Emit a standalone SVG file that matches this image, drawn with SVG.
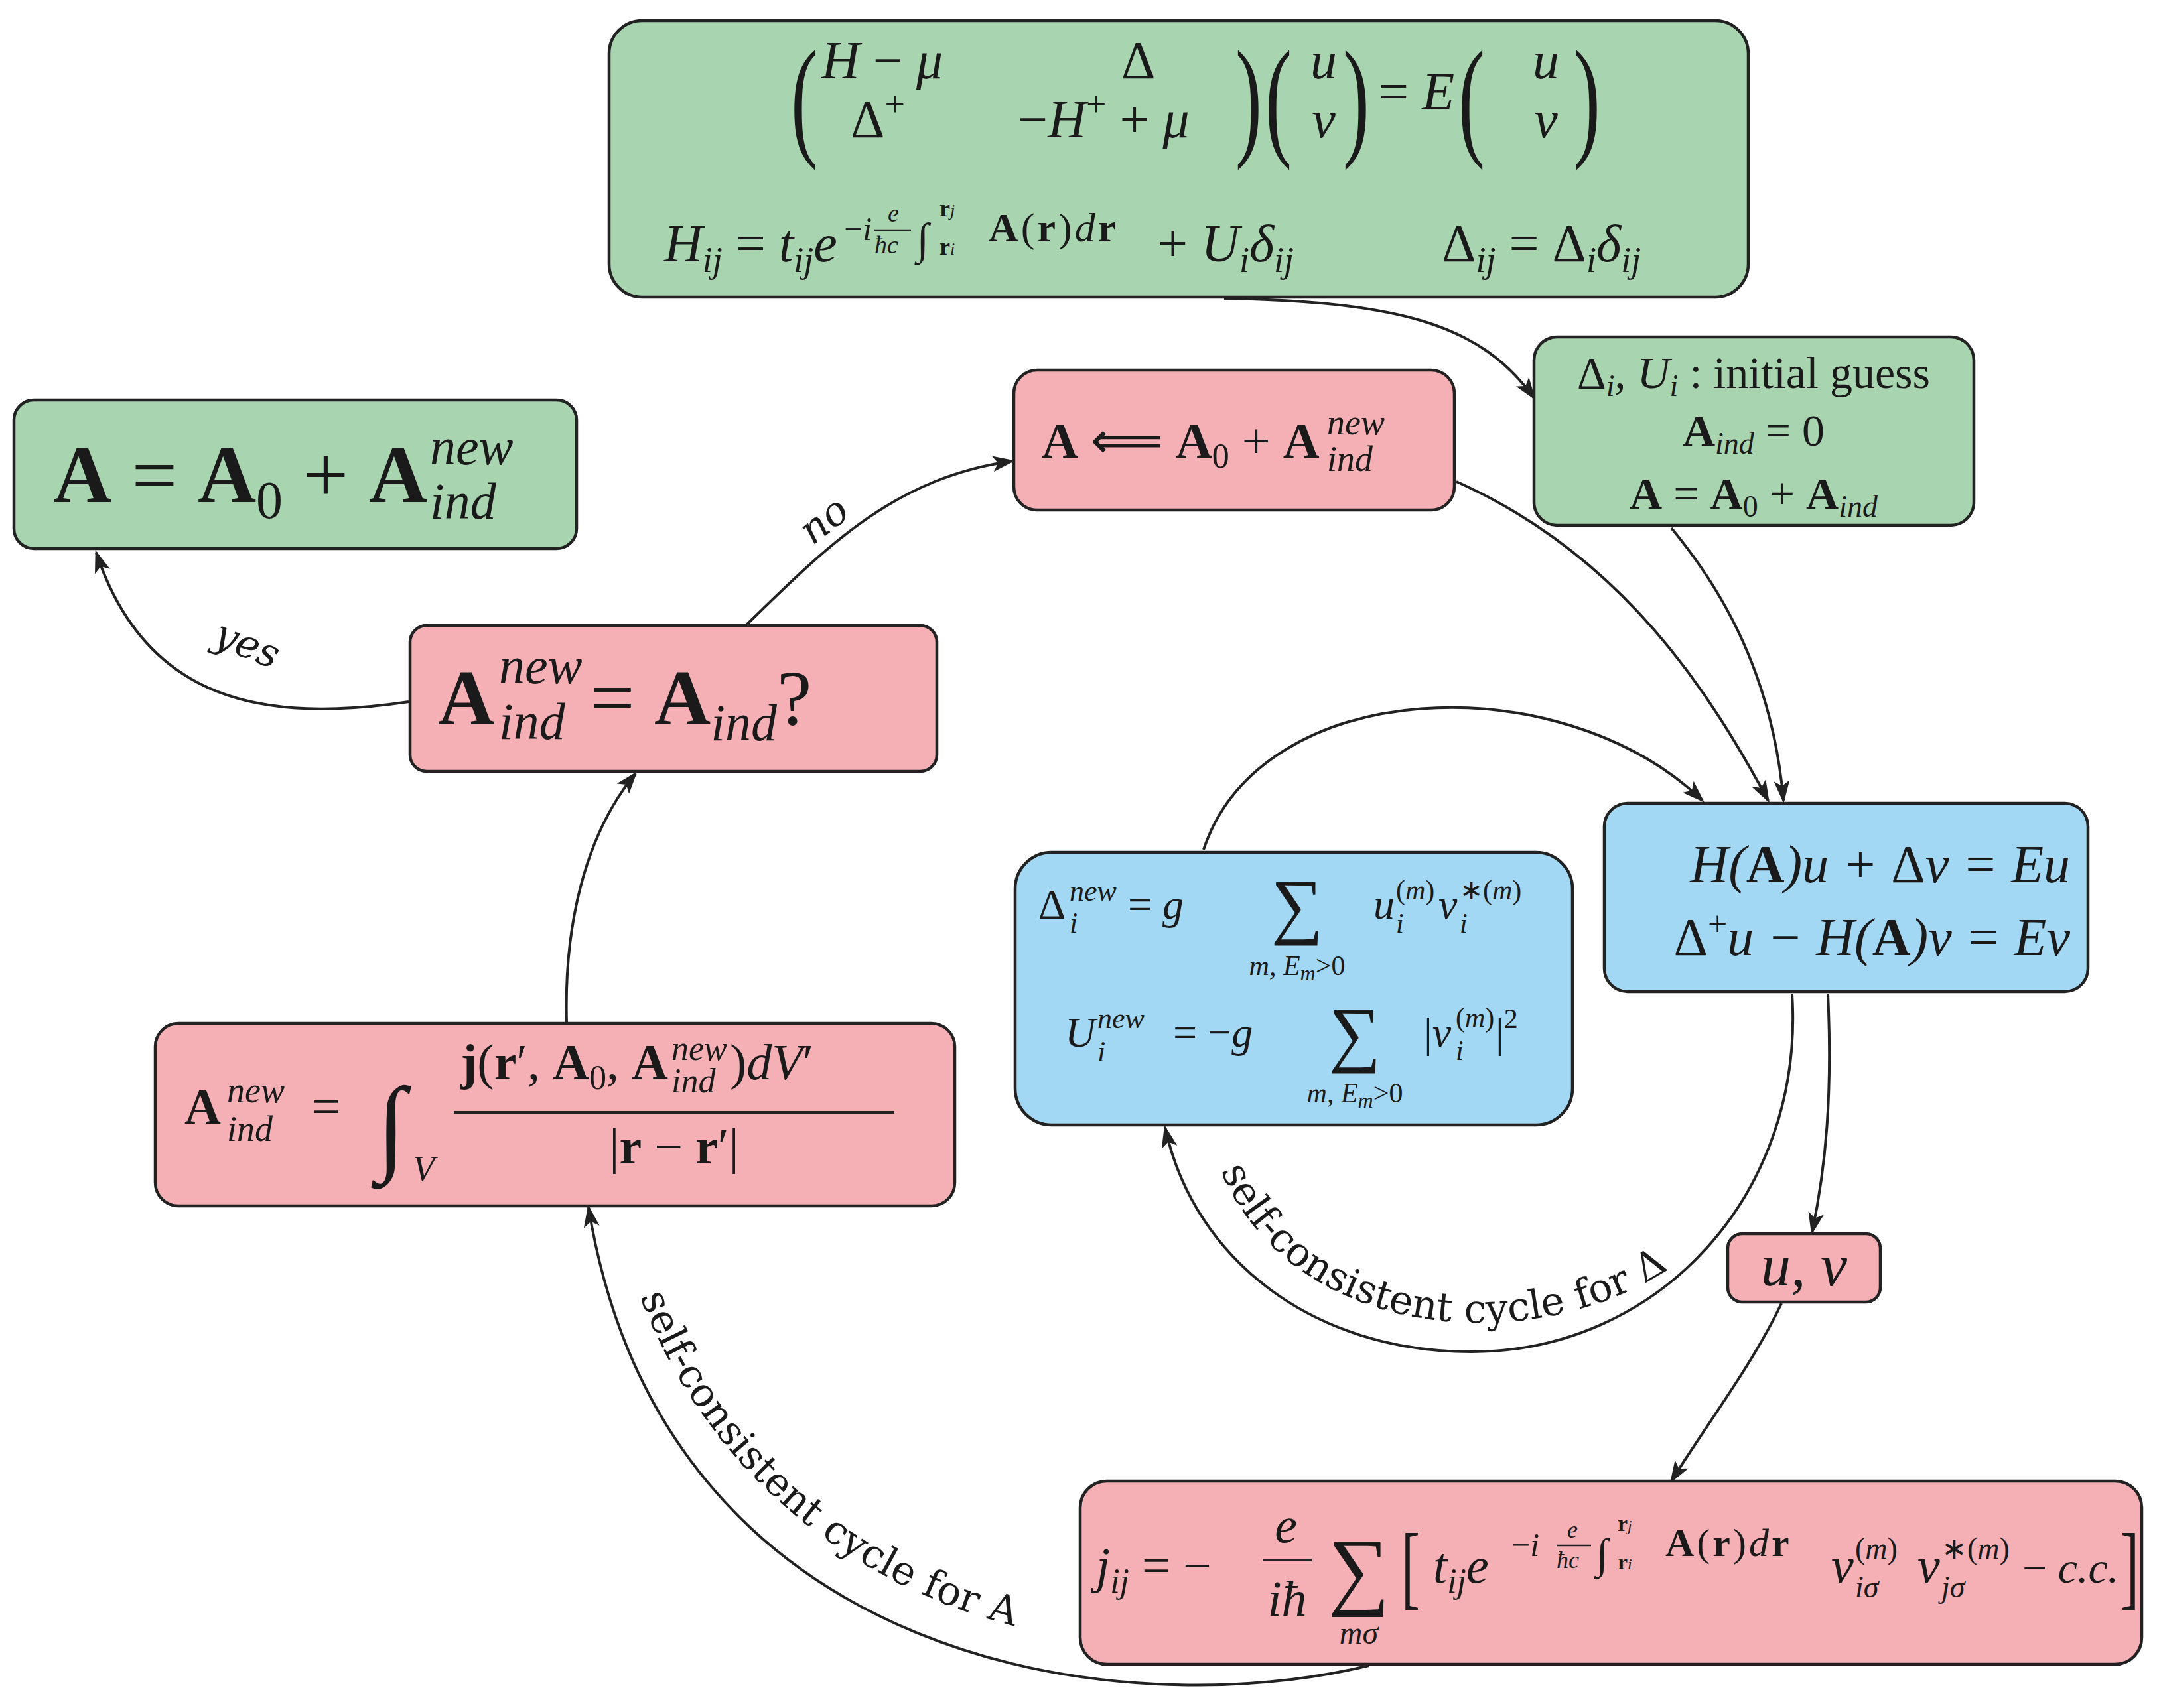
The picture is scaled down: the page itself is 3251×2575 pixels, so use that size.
<svg xmlns="http://www.w3.org/2000/svg" width="3251" height="2575" viewBox="0 0 3251 2575">
<defs>
<style>
.g{fill:#a8d5b0;stroke:#222;stroke-width:4.5}
.p{fill:#f4b0b5;stroke:#222;stroke-width:4.5}
.b{fill:#a3d8f4;stroke:#222;stroke-width:4.5}
.m{font-family:"Liberation Serif","Times New Roman",serif;fill:#1a1a1a}
.i{font-style:italic}
.bf{font-weight:bold}
.c{fill:none;stroke:#222;stroke-width:4}
.l{font-family:"DejaVu Serif","Noto Serif",serif;fill:#1a1a1a;font-size:60px}
</style>
<marker id="ah" markerWidth="34" markerHeight="24" refX="30" refY="12" orient="auto" markerUnits="userSpaceOnUse">
<path d="M0,0 L34,12 L0,24 L8,12 Z" fill="#222"/>
</marker>
</defs>
<rect width="3251" height="2575" fill="#fff"/>

<g id="connectors">
<path class="c" marker-end="url(#ah)" d="M1845,450 C2100,455 2230,485 2312,600"/>
<path class="c" marker-end="url(#ah)" d="M2195,726 C2450,840 2580,1050 2665,1207"/>
<path class="c" marker-end="url(#ah)" d="M2519,796 C2580,870 2670,1000 2688,1207"/>
<path class="c" marker-end="url(#ah)" d="M1814,1281 C1900,1020 2350,1000 2566,1207"/>
<path class="c" marker-end="url(#ah)" d="M2701,1499 C2720,1800 2500,2038 2218,2038 C1980,2038 1800,1900 1756,1700"/>
<path class="c" marker-end="url(#ah)" d="M2755,1499 C2762,1650 2752,1760 2731,1858"/>
<path class="c" marker-end="url(#ah)" d="M2685,1965 C2640,2060 2570,2150 2519,2233"/>
<path class="c" marker-end="url(#ah)" d="M2063,2511 C1700,2600 1000,2520 887,1820"/>
<path class="c" marker-end="url(#ah)" d="M854,1541 C850,1400 880,1260 958,1166"/>
<path class="c" marker-end="url(#ah)" d="M1126,941 C1250,820 1350,720 1526,695"/>
<path class="c" marker-end="url(#ah)" d="M616,1058 C400,1090 220,1060 145,833"/>
<path id="tpD" fill="none" d="M1840,1765 C1965,2065 2440,2055 2610,1825"/>
<path id="tpA" fill="none" d="M965,1955 C1060,2210 1290,2420 1620,2470"/>
<text class="l"><textPath href="#tpD">self-consistent cycle for Δ</textPath></text>
<text class="l"><textPath href="#tpA">self-consistent cycle for A</textPath></text>
<text class="l" x="1254" y="800" transform="rotate(-38 1254 800)" text-anchor="middle" style="font-style:italic">no</text>
<text class="l" x="365" y="990" transform="rotate(22 365 990)" text-anchor="middle" style="font-style:italic">yes</text>
</g>

<g id="top">
<rect class="g" x="918" y="31" width="1717" height="417" rx="50"/>
<g class="m" font-size="80">
<text x="1192" y="214" font-size="200" transform="translate(1192 0) scale(0.6 1) translate(-1192 0)">(</text>
<text x="1862" y="214" font-size="200" transform="translate(1862 0) scale(0.6 1) translate(-1862 0)">)</text>
<text x="1238" y="118"><tspan class="i">H</tspan> − <tspan class="i">μ</tspan></text>
<text x="1690" y="118">Δ</text>
<text x="1282" y="207">Δ<tspan font-size="54" dy="-32">+</tspan></text>
<text x="1534" y="207">−<tspan class="i">H</tspan><tspan font-size="54" dy="-32">+</tspan><tspan dy="32"> + </tspan><tspan class="i">μ</tspan></text>
<text x="1907" y="214" font-size="200" transform="translate(1907 0) scale(0.6 1) translate(-1907 0)">(</text>
<text x="1995" y="118" class="i" text-anchor="middle">u</text>
<text x="1995" y="207" class="i" text-anchor="middle">v</text>
<text x="2024" y="214" font-size="200" transform="translate(2024 0) scale(0.6 1) translate(-2024 0)">)</text>
<text x="2078" y="165">= <tspan class="i">E</tspan></text>
<text x="2198" y="214" font-size="200" transform="translate(2198 0) scale(0.6 1) translate(-2198 0)">(</text>
<text x="2330" y="118" class="i" text-anchor="middle">u</text>
<text x="2330" y="207" class="i" text-anchor="middle">v</text>
<text x="2372" y="214" font-size="200" transform="translate(2372 0) scale(0.6 1) translate(-2372 0)">)</text>
<text x="1001" y="394"><tspan class="i">H</tspan><tspan class="i" font-size="54" dy="16">ij</tspan><tspan dy="-16"> = </tspan><tspan class="i">t</tspan><tspan class="i" font-size="54" dy="16">ij</tspan><tspan class="i" dy="-16">e</tspan></text>
<text x="1272" y="362" font-size="50"><tspan>−</tspan><tspan class="i">i</tspan></text>
<text x="1338" y="334" font-size="38" class="i">e</text>
<line x1="1318" y1="347" x2="1373" y2="347" stroke="#222" stroke-width="2.5"/>
<text x="1318" y="382" font-size="38" class="i">ħc</text>
<text x="1382" y="382" font-size="66" class="i">∫</text>
<text x="1416" y="326" font-size="36" class="bf">r<tspan class="i" font-weight="normal" font-size="26">j</tspan></text>
<text x="1416" y="384" font-size="36" class="bf">r<tspan class="i" font-weight="normal" font-size="26">i</tspan></text>
<text x="1490" y="364" font-size="62" letter-spacing="4"><tspan class="bf">A</tspan>(<tspan class="bf">r</tspan>)<tspan class="i">d</tspan><tspan class="bf">r</tspan></text>
<text x="1745" y="394"> + <tspan class="i">U</tspan><tspan class="i" font-size="54" dy="16">i</tspan><tspan class="i" dy="-16">δ</tspan><tspan class="i" font-size="54" dy="16">ij</tspan></text>
<text x="2173" y="394">Δ<tspan class="i" font-size="54" dy="16">ij</tspan><tspan dy="-16"> = Δ</tspan><tspan class="i" font-size="54" dy="16">i</tspan><tspan class="i" dy="-16">δ</tspan><tspan class="i" font-size="54" dy="16">ij</tspan></text>
</g>
</g>

<g id="final">
<rect class="g" x="21" y="603" width="848" height="224" rx="30"/>
<g class="m" font-size="122">
<text x="80" y="757"><tspan class="bf">A</tspan> = <tspan class="bf">A</tspan><tspan font-size="80" dy="24">0</tspan><tspan dy="-24"> + </tspan><tspan class="bf">A</tspan></text>
<text x="648" y="700" font-size="78" class="i">new</text>
<text x="648" y="782" font-size="78" class="i">ind</text>
</g>
</g>

<g id="update">
<rect class="p" x="1528" y="558" width="664" height="211" rx="35"/>
<g class="m" font-size="76">
<text x="1570" y="690"><tspan class="bf">A</tspan> ⟸ <tspan class="bf">A</tspan><tspan font-size="52" dy="15">0</tspan><tspan dy="-15"> + </tspan><tspan class="bf">A</tspan></text>
<text x="2000" y="655" font-size="54" class="i">new</text>
<text x="2000" y="710" font-size="54" class="i">ind</text>
</g>
</g>

<g id="init">
<rect class="g" x="2312" y="508" width="663" height="284" rx="35"/>
<g class="m" font-size="68" text-anchor="middle">
<text x="2643" y="585">Δ<tspan class="i" font-size="46" dy="12">i</tspan><tspan dy="-12">, </tspan><tspan class="i">U</tspan><tspan class="i" font-size="46" dy="12">i</tspan><tspan dy="-12"> : initial guess</tspan></text>
<text x="2643" y="672"><tspan class="bf">A</tspan><tspan class="i" font-size="46" dy="12">ind</tspan><tspan dy="-12"> = 0</tspan></text>
<text x="2643" y="767"><tspan class="bf">A</tspan> = <tspan class="bf">A</tspan><tspan font-size="46" dy="12">0</tspan><tspan dy="-12"> + </tspan><tspan class="bf">A</tspan><tspan class="i" font-size="46" dy="12">ind</tspan></text>
</g>
</g>

<g id="check">
<rect class="p" x="618" y="943" width="794" height="220" rx="25"/>
<g class="m" font-size="118">
<text x="660" y="1092" class="bf">A</text>
<text x="752" y="1030" font-size="78" class="i">new</text>
<text x="752" y="1114" font-size="78" class="i">ind</text>
<text x="890" y="1092"> = <tspan class="bf">A</tspan><tspan class="i" font-size="78" dy="24">ind</tspan><tspan dy="-24">?</tspan></text>
</g>
</g>

<g id="gapeq">
<rect class="b" x="1530" y="1285" width="840" height="411" rx="55"/>
<g class="m" font-size="64">
<text x="1565" y="1385">Δ</text>
<text x="1612" y="1358" font-size="44" class="i">new</text>
<text x="1612" y="1406" font-size="44" class="i">i</text>
<text x="1700" y="1385">= <tspan class="i">g</tspan></text>
<text x="1955" y="1402" font-size="110" text-anchor="middle">∑</text>
<text x="1955" y="1470" font-size="42" text-anchor="middle" class="i">m, E<tspan font-size="32" dy="8">m</tspan><tspan dy="-8" font-style="normal">&gt;0</tspan></text>
<text x="2070" y="1385" class="i">u</text>
<text x="2104" y="1356" font-size="42">(<tspan class="i">m</tspan>)</text>
<text x="2104" y="1406" font-size="42" class="i">i</text>
<text x="2168" y="1385" class="i">v</text>
<text x="2200" y="1356" font-size="42">∗(<tspan class="i">m</tspan>)</text>
<text x="2200" y="1406" font-size="42" class="i">i</text>
<text x="1605" y="1578" class="i">U</text>
<text x="1654" y="1550" font-size="44" class="i">new</text>
<text x="1654" y="1600" font-size="44" class="i">i</text>
<text x="1768" y="1578">= −<tspan class="i">g</tspan></text>
<text x="2042" y="1595" font-size="110" text-anchor="middle">∑</text>
<text x="2042" y="1662" font-size="42" text-anchor="middle" class="i">m, E<tspan font-size="32" dy="8">m</tspan><tspan dy="-8" font-style="normal">&gt;0</tspan></text>
<text x="2146" y="1578">|<tspan class="i">v</tspan></text>
<text x="2194" y="1548" font-size="42">(<tspan class="i">m</tspan>)</text>
<text x="2194" y="1598" font-size="42" class="i">i</text>
<text x="2254" y="1578">|<tspan font-size="42" dy="-28">2</tspan></text>
</g>
</g>

<g id="bdg">
<rect class="b" x="2418" y="1211" width="729" height="284" rx="35"/>
<g class="m i" font-size="80" text-anchor="end">
<text x="3120" y="1330">H(<tspan class="bf" font-style="normal">A</tspan>)u + <tspan font-style="normal">Δ</tspan>v = Eu</text>
<text x="3120" y="1440"><tspan font-style="normal">Δ</tspan><tspan font-style="normal" font-size="52" dy="-30">+</tspan><tspan dy="30">u − H(</tspan><tspan class="bf" font-style="normal">A</tspan>)v = Ev</text>
</g>
</g>

<g id="anew">
<rect class="p" x="234" y="1543" width="1205" height="275" rx="35"/>
<g class="m" font-size="76">
<text x="278" y="1694" class="bf">A</text>
<text x="342" y="1662" font-size="54" class="i">new</text>
<text x="342" y="1720" font-size="54" class="i">ind</text>
<text x="470" y="1694">=</text>
<text x="568" y="1750" font-size="160" class="i">∫</text>
<text x="622" y="1780" font-size="54" class="i">V</text>
<text x="694" y="1627"><tspan class="bf">j</tspan>(<tspan class="bf">r</tspan>′, <tspan class="bf">A</tspan><tspan font-size="52" dy="15">0</tspan><tspan dy="-15">, </tspan><tspan class="bf">A</tspan></text>
<text x="1012" y="1598" font-size="52" class="i">new</text>
<text x="1012" y="1647" font-size="52" class="i">ind</text>
<text x="1100" y="1627">)<tspan class="i">dV</tspan>′</text>
<line x1="684" y1="1677" x2="1348" y2="1677" stroke="#222" stroke-width="4"/>
<text x="1016" y="1754" text-anchor="middle">|<tspan class="bf">r</tspan> − <tspan class="bf">r</tspan>′|</text>
</g>
</g>

<g id="uv">
<rect class="p" x="2604" y="1860" width="230" height="103" rx="22"/>
<text class="m i" x="2719" y="1938" font-size="90" text-anchor="middle">u, v</text>
</g>

<g id="current">
<rect class="p" x="1628" y="2233" width="1600" height="276" rx="40"/>
<g class="m" font-size="76">
<text x="1652" y="2386"><tspan class="i">j</tspan><tspan class="i" font-size="52" dy="15">ij</tspan><tspan dy="-15"> = −</tspan></text>
<text x="1938" y="2325" class="i" text-anchor="middle">e</text>
<line x1="1903" y1="2352" x2="1977" y2="2352" stroke="#222" stroke-width="4"/>
<text x="1940" y="2436" class="i" text-anchor="middle">iħ</text>
<text x="2048" y="2410" font-size="130" text-anchor="middle">∑</text>
<text x="2048" y="2478" font-size="48" class="i" text-anchor="middle">mσ</text>
<text x="2112" y="2408" font-size="140" transform="translate(2112 0) scale(0.6 1) translate(-2112 0)">[</text>
<text x="2160" y="2386"><tspan class="i">t</tspan><tspan class="i" font-size="52" dy="15">ij</tspan><tspan class="i" dy="-15">e</tspan></text>
<text x="2278" y="2346" font-size="50">−<tspan class="i">i</tspan></text>
<text x="2362" y="2318" font-size="36" class="i">e</text>
<line x1="2346" y1="2330" x2="2398" y2="2330" stroke="#222" stroke-width="2.5"/>
<text x="2346" y="2364" font-size="36" class="i">ħc</text>
<text x="2406" y="2364" font-size="64" class="i">∫</text>
<text x="2438" y="2308" font-size="34" class="bf">r<tspan class="i" font-weight="normal" font-size="24">j</tspan></text>
<text x="2438" y="2366" font-size="34" class="bf">r<tspan class="i" font-weight="normal" font-size="24">i</tspan></text>
<text x="2510" y="2346" font-size="60" letter-spacing="4"><tspan class="bf">A</tspan>(<tspan class="bf">r</tspan>)<tspan class="i">d</tspan><tspan class="bf">r</tspan></text>
<text x="2760" y="2386" class="i">v</text>
<text x="2796" y="2350" font-size="46">(<tspan class="i">m</tspan>)</text>
<text x="2796" y="2408" font-size="46" class="i">iσ</text>
<text x="2890" y="2386" class="i">v</text>
<text x="2926" y="2350" font-size="46">∗(<tspan class="i">m</tspan>)</text>
<text x="2926" y="2408" font-size="46" class="i">jσ</text>
<text x="3048" y="2386" font-size="66">− <tspan class="i">c.c.</tspan></text>
<text x="3196" y="2408" font-size="140" transform="translate(3196 0) scale(0.6 1) translate(-3196 0)">]</text>
</g>
</g>
</svg>
